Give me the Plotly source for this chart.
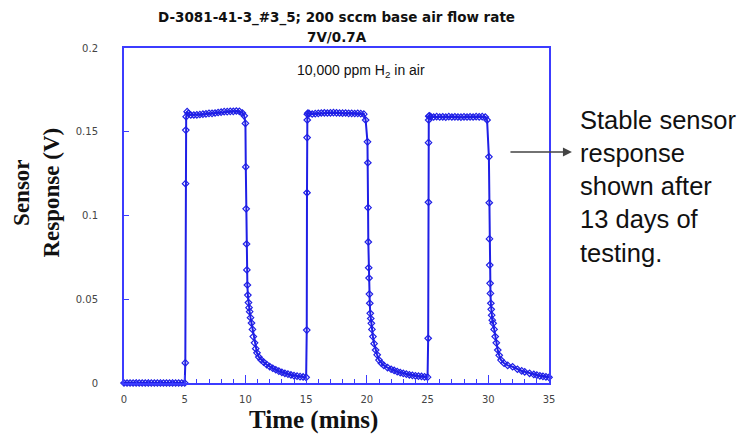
import plotly.graph_objects as go

# ---- data (time in minutes, response in V) ----
time_c1 = [0, 0.25, 0.5, 0.75, 1.0, 1.25, 1.5, 1.75, 2.0, 2.25, 2.5, 2.75, 3.0, 3.25, 3.5, 3.75,
           4.0, 4.25, 4.5, 4.75, 5.0, 5.05, 5.07, 5.09, 5.12, 5.2, 5.3, 5.5, 5.75, 6.0, 6.25,
           6.5, 6.75, 7.0, 7.25, 7.5, 7.75, 8.0, 8.25, 8.5, 8.75, 9.0, 9.25, 9.5, 9.75, 9.9,
           10.0, 10.03, 10.06, 10.09, 10.12, 10.16, 10.2, 10.25, 10.3, 10.35, 10.42, 10.5,
           10.58, 10.65, 10.75, 10.85, 10.95, 11.1, 11.3, 11.5, 11.75, 12.0, 12.25, 12.5,
           12.75, 13.0, 13.25, 13.5, 13.75, 14.0, 14.25, 14.5, 14.75, 15.0]
resp_c1 = [0, 0, 0, 0, 0, 0, 0, 0, 0, 0, 0, 0, 0, 0, 0, 0,
           0, 0, 0, 0, 0, 0.012, 0.119, 0.151, 0.159, 0.162, 0.161, 0.1600, 0.1600, 0.1601, 0.1603,
           0.1605, 0.1607, 0.1610, 0.1610, 0.1612, 0.1615, 0.1617, 0.1620, 0.1620, 0.1622, 0.1622, 0.1624, 0.1622, 0.1612, 0.1595,
           0.155, 0.129, 0.104, 0.083, 0.0675, 0.0585, 0.0525, 0.048, 0.045, 0.0426, 0.039, 0.0358,
           0.032, 0.0277, 0.024, 0.0205, 0.018, 0.0155, 0.0138, 0.0125, 0.011, 0.0098, 0.0088, 0.0079,
           0.0071, 0.0064, 0.0058, 0.0053, 0.0048, 0.0044, 0.0041, 0.0038, 0.0036, 0.0034]

time_c2 = [15.05, 15.07, 15.08, 15.09, 15.1, 15.15, 15.25, 15.5, 15.75, 16.0, 16.25, 16.5, 16.75,
           17.0, 17.25, 17.5, 17.75, 18.0, 18.25, 18.5, 18.75, 19.0, 19.25, 19.5, 19.75, 19.9,
           20.05, 20.08, 20.1, 20.12, 20.15, 20.18, 20.21, 20.24, 20.28, 20.32, 20.37, 20.42,
           20.5, 20.6, 20.72, 20.85, 21.0, 21.2, 21.4, 21.7, 22.0, 22.25, 22.5, 22.75, 23.0,
           23.25, 23.5, 23.75, 24.0, 24.25, 24.5, 24.75, 25.0]
resp_c2 = [0.0316, 0.1136, 0.1465, 0.157, 0.1605, 0.1612, 0.1608, 0.1606, 0.1608, 0.1610, 0.1612, 0.1613, 0.1612,
           0.1613, 0.1614, 0.1613, 0.1612, 0.1611, 0.1612, 0.1610, 0.1610, 0.1609, 0.1610, 0.1608, 0.1605, 0.157,
           0.144, 0.1315, 0.1047, 0.0842, 0.0688, 0.0627, 0.0531, 0.0476, 0.0416, 0.0385, 0.0356, 0.032,
           0.0277, 0.0235, 0.0197, 0.0168, 0.0137, 0.0118, 0.0105, 0.0092, 0.0082, 0.0075, 0.0068, 0.0062, 0.0057,
           0.0053, 0.0049, 0.0046, 0.0043, 0.0041, 0.0039, 0.0037, 0.0035]

time_c3 = [25.05, 25.07, 25.08, 25.09, 25.1, 25.15, 25.25, 25.5, 25.75, 26.0, 26.25, 26.5, 26.75,
           27.0, 27.25, 27.5, 27.75, 28.0, 28.25, 28.5, 28.75, 29.0, 29.25, 29.5, 29.75, 29.9,
           30.05, 30.08, 30.1, 30.12, 30.15, 30.18, 30.21, 30.24, 30.28, 30.33, 30.4, 30.48,
           30.57, 30.66, 30.78, 30.9, 31.05, 31.3, 31.6, 32.0, 32.4, 32.75, 33.0, 33.4, 33.75,
           34.0, 34.25, 34.5, 34.75, 35.0]
resp_c3 = [0.0267, 0.1079, 0.1435, 0.157, 0.1592, 0.1595, 0.1590, 0.1588, 0.1590, 0.1588, 0.1589, 0.1587, 0.1590,
           0.1588, 0.1589, 0.1588, 0.1587, 0.1589, 0.1588, 0.1589, 0.1588, 0.1590, 0.1589, 0.1590, 0.1588, 0.157,
           0.135, 0.1076, 0.086, 0.0704, 0.0595, 0.0535, 0.0476, 0.044, 0.0405, 0.0375, 0.0356, 0.032,
           0.0277, 0.024, 0.0197, 0.0165, 0.0137, 0.0118, 0.0105, 0.0097, 0.0082, 0.0072, 0.0067, 0.0058, 0.0051,
           0.0047, 0.0043, 0.0040, 0.0037, 0.0034]

x_ticks = [0, 5, 10, 15, 20, 25, 30, 35]
y_ticks = [0, 0.05, 0.1, 0.15, 0.2]
y_tick_labels = ["0", "0.05", "0.1", "0.15", "0.2"]

title_line1 = "D-3081-41-3_#3_5; 200 sccm base air flow rate"
title_line2 = "7V/0.7A"
note_text = "10,000 ppm H<sub>2</sub> in air"
side_text = "Stable sensor<br>response<br>shown after<br>13 days of<br>testing."

DATA_BLUE = "#1f1fe6"
FRAME_BLUE = "#3c3cff"

fig = go.Figure()
fig.add_trace(go.Scatter(
    x=time_c1 + time_c2 + time_c3,
    y=resp_c1 + resp_c2 + resp_c3,
    mode="lines+markers",
    line=dict(color=DATA_BLUE, width=2),
    marker=dict(symbol="diamond-open", size=5, color=DATA_BLUE, line=dict(width=1.2, color=DATA_BLUE)),
    cliponaxis=False,
    showlegend=False,
))

fig.update_layout(
    width=744, height=435,
    margin=dict(l=124, r=195, t=48, b=52),
    paper_bgcolor="white", plot_bgcolor="white",
    font=dict(family="Liberation Sans, Arial", color="#333"),
    xaxis=dict(
        range=[0, 35], tickvals=x_ticks, showgrid=False, zeroline=False,
        showline=True, mirror=True, linecolor=FRAME_BLUE, linewidth=2,
        ticks="inside", ticklen=8, tickcolor=FRAME_BLUE, tickwidth=1,
        minor=dict(dtick=1, ticks="inside", ticklen=4, tickcolor=FRAME_BLUE, tickwidth=1),
        tickfont=dict(size=10, color="#444", family="DejaVu Sans"),
        ticklabelstandoff=6,
    ),
    yaxis=dict(
        range=[0, 0.2], tickvals=y_ticks, ticktext=y_tick_labels, showgrid=False, zeroline=False,
        showline=True, mirror=True, linecolor=FRAME_BLUE, linewidth=2,
        ticks="inside", ticklen=5, tickcolor=FRAME_BLUE, tickwidth=1,
        tickfont=dict(size=10, color="#444", family="DejaVu Sans"),
        ticklabelstandoff=22,
    ),
    annotations=[
        dict(text="<b>" + title_line1 + "</b>", xref="paper", yref="paper", x=0.5, y=1.092,
             showarrow=False, xanchor="center", yanchor="middle",
             font=dict(family="DejaVu Sans", size=13.5, color="#111")),
        dict(text="<b>" + title_line2 + "</b>", xref="paper", yref="paper", x=0.5, y=1.033,
             showarrow=False, xanchor="center", yanchor="middle",
             font=dict(family="DejaVu Sans", size=13.5, color="#111")),
        dict(text=note_text, xref="x", yref="y", x=19.5, y=0.186, showarrow=False,
             xanchor="center", yanchor="middle",
             font=dict(family="Liberation Sans, Arial", size=14, color="#111")),
        dict(text="<b>Time (mins)</b>", xref="paper", yref="paper", x=0.447, y=-0.11,
             showarrow=False, xanchor="center", yanchor="middle",
             font=dict(family="Liberation Serif, Times New Roman", size=25, color="#111")),
        dict(text="<b>Sensor<br>Response (V)</b>", xref="paper", yref="paper", x=-0.206, y=0.57,
             showarrow=False, xanchor="center", yanchor="middle", textangle=-90,
             font=dict(family="Liberation Serif, Times New Roman", size=23, color="#111")),
        dict(text=side_text, xref="paper", yref="paper", x=1.068, y=0.588,
             showarrow=False, xanchor="left", yanchor="middle", align="left",
             font=dict(family="Liberation Sans, Arial", size=25.5, color="#111")),
        dict(text="", xref="paper", yref="paper", x=1.054, y=0.6896,
             showarrow=True, ax=-63, ay=0, arrowhead=2, arrowsize=1.2, arrowwidth=1.5,
             arrowcolor="#444", standoff=0),
    ],
)

fig.write_html("out.html")
